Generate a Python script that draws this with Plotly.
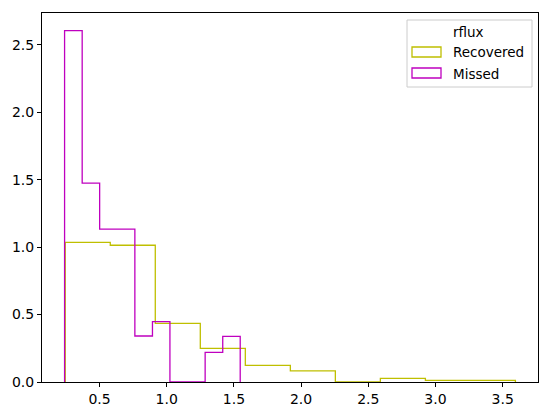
import numpy as np
import plotly.graph_objects as go

# bin edges and density heights (rflux)
recovered_edges = [0.245, 0.580, 0.915, 1.250, 1.585, 1.920, 2.255, 2.590, 2.925, 3.260, 3.595]
recovered_density = [1.036, 1.014, 0.435, 0.250, 0.124, 0.082, 0.0, 0.027, 0.012, 0.012]

missed_edges = [0.240, 0.371, 0.501, 0.632, 0.763, 0.894, 1.024, 1.155, 1.286, 1.417, 1.547]
missed_density = [2.606, 1.474, 1.133, 1.133, 0.341, 0.447, 0.0, 0.0, 0.220, 0.339]

series = [
    ("Recovered", recovered_edges, recovered_density, "#bfbf00"),
    ("Missed", missed_edges, missed_density, "#bf00bf"),
]

FONT = "DejaVu Sans"


def step_outline(edges, heights):
    """Outline of a step histogram (matplotlib histtype='step')."""
    xs = np.repeat(edges, 2)
    ys = np.concatenate([[0.0], np.repeat(heights, 2), [0.0]])
    return xs, ys


fig = go.Figure()
for name, edges, dens, color in series:
    xs, ys = step_outline(edges, dens)
    fig.add_trace(go.Scatter(
        x=xs, y=ys, mode="lines", name=name,
        line=dict(color=color, width=1.3),
        showlegend=False,
    ))

axis_style = dict(
    showline=True, linecolor="black", linewidth=1.1, mirror=True,
    ticks="outside", ticklen=4, tickcolor="black", tickwidth=1.1,
    showgrid=False, zeroline=False, automargin=False,
    tickfont=dict(family=FONT, size=14, color="black"),
)

# page body adds an 8px offset, so margins are shifted to compensate
fig.update_layout(
    width=551, height=416,
    margin=dict(l=34, r=21, t=5, b=42),
    paper_bgcolor="white", plot_bgcolor="white",
    xaxis=dict(range=[0.072, 3.763], tickvals=[0.5, 1.0, 1.5, 2.0, 2.5, 3.0, 3.5],
               ticktext=["0.5", "1.0", "1.5", "2.0", "2.5", "3.0", "3.5"], **axis_style),
    yaxis=dict(range=[0, 2.736], tickvals=[0, 0.5, 1.0, 1.5, 2.0, 2.5],
               ticktext=["0.0", "0.5", "1.0", "1.5", "2.0", "2.5"], **axis_style),
)

# matplotlib-style legend drawn in pixels from the top-right axes corner
px = dict(xref="paper", yref="paper", xanchor=1, yanchor=1,
          xsizemode="pixel", ysizemode="pixel")
fig.add_shape(type="rect", x0=-131, x1=-6, y0=-74, y1=-7,
              line=dict(color="#cccccc", width=1), fillcolor="rgba(255,255,255,0.8)", **px)
patch_rows = [(-34, -44, -39), (-55, -65, -61)]
for (name, _, _, color), (ya, yb, ytext) in zip(series, patch_rows):
    fig.add_shape(type="rect", x0=-126, x1=-97, y0=yb, y1=ya,
                  line=dict(color=color, width=1.3), fillcolor="rgba(0,0,0,0)", **px)
    fig.add_annotation(text=name, xref="paper", yref="paper", x=1, y=1,
                       xshift=-87, yshift=ytext, xanchor="left", yanchor="middle",
                       showarrow=False, font=dict(family=FONT, size=13.5, color="black"))
fig.add_annotation(text="rflux", xref="paper", yref="paper", x=1, y=1,
                   xshift=-70, yshift=-19, xanchor="center", yanchor="middle",
                   showarrow=False, font=dict(family=FONT, size=13.5, color="black"))

fig.write_html("out.html")
